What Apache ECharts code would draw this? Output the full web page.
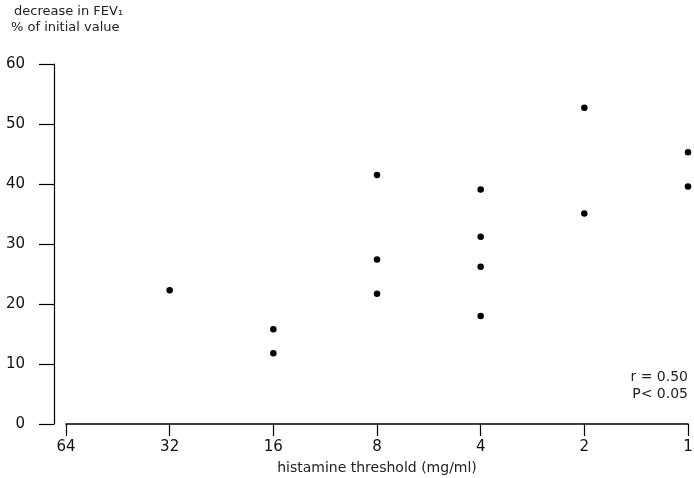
<!DOCTYPE html>
<html>
<head>
<meta charset="utf-8">
<script src="https://cdn.jsdelivr.net/npm/echarts@6/dist/echarts.min.js"></script>
<style>
  html, body { margin: 0; padding: 0; background: #fff; }
  #plot { width: 694px; height: 478px; }
</style>
</head>
<body>
<div id="plot"></div>
<script>
// histamine threshold (mg/ml) and decrease in FEV1 (% of initial value)
var thresholds = [32, 16, 16, 8, 8, 8, 4, 4, 4, 4, 2, 2, 1, 1];
var fevDecrease = [22.3, 15.8, 11.8, 41.5, 27.4, 21.7, 39.1, 31.2, 26.2, 18.0, 52.7, 35.1, 45.3, 39.6];
var xTicks = [64, 32, 16, 8, 4, 2, 1];

var font = 'DejaVu Sans';
var points = thresholds.map(function (t, i) { return [t, fevDecrease[i]]; });

var myChart = echarts.init(document.getElementById('plot'));

var option = {
  animation: false,
  grid: { left: 66, right: 6, top: 64, bottom: 54, containLabel: false, outerBoundsMode: 'none' },
  xAxis: {
    type: 'log',
    logBase: 2,
    min: 1,
    max: 64,
    inverse: true,
    name: 'histamine threshold (mg/ml)',
    nameLocation: 'middle',
    nameGap: 37,
    nameTextStyle: { fontFamily: font, fontSize: 14, color: '#222' },
    axisLine: { lineStyle: { color: '#000', width: 1.5 } },
    axisTick: { length: 12, lineStyle: { color: '#000', width: 1.2 } },
    axisLabel: { margin: 16, fontFamily: font, fontSize: 15, color: '#111',
      formatter: function (v) { return xTicks.indexOf(Math.round(v)) >= 0 ? Math.round(v) : ''; } },
    splitLine: { show: false }
  },
  yAxis: {
    type: 'value',
    min: 0,
    max: 60,
    interval: 10,
    offset: 12,
    axisLine: { show: true, lineStyle: { color: '#000', width: 1.2 } },
    axisTick: { show: true, length: 15, lineStyle: { color: '#000', width: 1.2 } },
    axisLabel: { margin: 29, fontFamily: font, fontSize: 15, color: '#111' },
    splitLine: { show: false }
  },
  graphic: [
    { type: 'text', left: 14, top: 5,
      style: { text: 'decrease in FEV₁', font: '13px "DejaVu Sans"', fill: '#222' } },
    { type: 'text', left: 11, top: 21,
      style: { text: '% of initial value', font: '13px "DejaVu Sans"', fill: '#222' } },
    { type: 'text', right: 6, top: 370,
      style: { text: 'r = 0.50', font: '14px "DejaVu Sans"', fill: '#222' } },
    { type: 'text', right: 6, top: 387,
      style: { text: 'P< 0.05', font: '14px "DejaVu Sans"', fill: '#222' } }
  ],
  series: [{
    type: 'scatter',
    data: points,
    symbol: 'circle',
    symbolSize: 6.5,
    itemStyle: { color: '#000', opacity: 1 }
  }]
};

myChart.setOption(option);
</script>
</body>
</html>
